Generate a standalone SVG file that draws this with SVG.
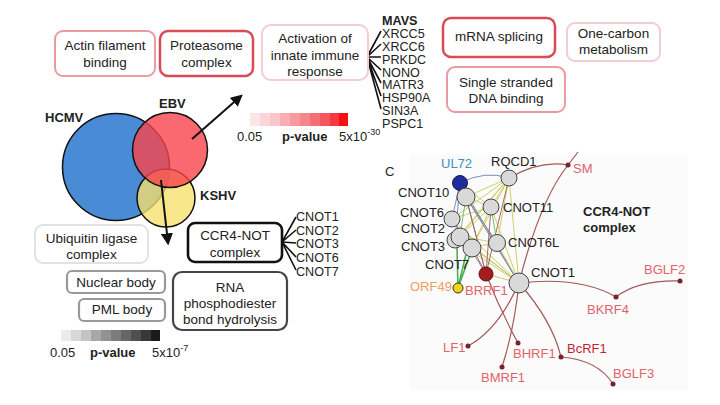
<svg xmlns="http://www.w3.org/2000/svg" width="720" height="405" viewBox="0 0 720 405">
<defs>
<style>
text{font-family:"Liberation Sans",Arial,sans-serif;fill:#222;}
.bt{font-size:13.5px;text-anchor:middle;}
.lst{font-size:12.6px;}
.b{font-weight:bold;}
.box{fill:#fff;stroke-width:2;}
.pk1{stroke:#f2cdd1;}
.pk2{stroke:#e99aa3;}
.pk3{stroke:#d94a57;stroke-width:2.5;}
.g1{stroke:#e2e2e2;}
.g2{stroke:#999;stroke-width:2.2;}
.g3{stroke:#454545;stroke-width:2.2;}
.g4{stroke:#111;stroke-width:2.6;}
.fan{stroke:#111;stroke-width:1.6;fill:none;}
.arr{stroke:#111;stroke-width:2;fill:none;}
.nt{font-size:13px;}
.ev{font-size:13px;fill:#e0626a;}
.ge{fill:none;stroke:#a35858;stroke-width:1.2;}
.ce{fill:none;stroke-width:0.9;}
.yg{stroke:#c9c85a;}
.bg{stroke:#6f7fb5;}
.gr{stroke:#62b86a;}
.br{stroke:#a5584a;}
.nd{fill:#d9d9d9;stroke:#444;stroke-width:1;}
.dot{fill:#7a2030;}
</style>
<marker id="ah" viewBox="0 0 10 10" refX="8" refY="5" markerWidth="6" markerHeight="6" orient="auto" markerUnits="strokeWidth"><path d="M0,0 L10,5 L0,10 z" fill="#111"/></marker>
</defs>
<rect width="720" height="405" fill="#fff"/>
<rect x="410" y="155" width="278" height="235" fill="#fbfbfb"/>

<!-- Venn -->
<g id="venn">
<circle cx="116" cy="167" r="53.5" fill="#4a8bd6" stroke="#111" stroke-width="1.5"/>
<circle cx="166" cy="198" r="29" fill="#f7e06a" fill-opacity="0.78" stroke="#111" stroke-width="1.5"/>
<circle cx="170" cy="150" r="37.5" fill="#f7434b" fill-opacity="0.8" stroke="#111" stroke-width="1.5"/>
<text x="45" y="122" class="b" font-size="13">HCMV</text>
<text x="159" y="108" class="b" font-size="13">EBV</text>
<text x="200" y="200" class="b" font-size="13">KSHV</text>
</g>

<g id="connectors">
<line x1="192" y1="139" x2="241" y2="96" class="arr" marker-end="url(#ah)"/>
<line x1="161" y1="180" x2="168" y2="243" class="arr" marker-end="url(#ah)"/>
<g class="fan">
<path d="M367,57 L381,31 M367,57 L381,44 M367,57 L381,57 M367,57 L381,70 M367,57 L381,83 M367,57 L381,96 M367,57 L381,109"/>
<path d="M282,242 L296,217 M282,242 L296,230 M282,242 L296,243 M282,242 L296,257 M282,242 L296,270"/>
</g>
</g>

<!-- top boxes -->
<g id="actin"><rect x="55" y="31" width="100" height="45" rx="8" class="box pk2"/><text class="bt" x="105" y="50">Actin filament</text><text class="bt" x="105" y="67">binding</text></g>
<g id="proteasome"><rect x="160" y="31" width="93" height="45" rx="8" class="box pk3"/><text class="bt" x="206.5" y="50">Proteasome</text><text class="bt" x="206.5" y="67">complex</text></g>
<g id="innate"><rect x="262" y="25" width="106" height="55" rx="9" class="box pk1"/><text class="bt" x="315" y="43">Activation of</text><text class="bt" x="315" y="60">innate immune</text><text class="bt" x="315" y="76">response</text></g>
<g id="mavs-list">
<text class="lst b" x="382" y="25">MAVS</text>
<text class="lst" x="382" y="38">XRCC5</text>
<text class="lst" x="382" y="51">XRCC6</text>
<text class="lst" x="382" y="63.5">PRKDC</text>
<text class="lst" x="382" y="76.5">NONO</text>
<text class="lst" x="382" y="89">MATR3</text>
<text class="lst" x="382" y="102">HSP90A</text>
<text class="lst" x="382" y="115">SIN3A</text>
<text class="lst" x="382" y="128">PSPC1</text>
</g>
<g id="mrna"><rect x="443" y="18" width="112" height="39" rx="8" class="box pk3"/><text class="bt" x="499" y="41">mRNA splicing</text></g>
<g id="onecarbon"><rect x="567" y="23" width="93" height="38" rx="8" class="box pk1"/><text class="bt" x="613.5" y="38">One-carbon</text><text class="bt" x="613.5" y="54">metabolism</text></g>
<g id="ssdna"><rect x="447" y="67" width="118" height="45" rx="8" class="box pk2"/><text class="bt" x="506" y="87">Single stranded</text><text class="bt" x="506" y="103">DNA binding</text></g>

<!-- red legend -->
<g id="legend-red">
<rect x="250" y="113" width="10" height="13" fill="#fde6e8"/>
<rect x="260" y="113" width="10" height="13" fill="#fcd6d9"/>
<rect x="270" y="113" width="10" height="13" fill="#fbc6ca"/>
<rect x="280" y="113" width="10" height="13" fill="#f9aeb3"/>
<rect x="290" y="113" width="10" height="13" fill="#f79aa0"/>
<rect x="300" y="113" width="10" height="13" fill="#f5868c"/>
<rect x="310" y="113" width="10" height="13" fill="#f46e74"/>
<rect x="320" y="113" width="10" height="13" fill="#f3565c"/>
<rect x="330" y="113" width="9" height="13" fill="#f43a40"/>
<rect x="339" y="113" width="9" height="13" fill="#f50f16"/>
<text x="237" y="141" font-size="13">0.05</text>
<text x="282" y="141" font-size="13" class="b">p-value</text>
<text x="339" y="141" font-size="13">5x10<tspan font-size="9" dy="-6">-30</tspan></text>
</g>

<!-- bottom-left boxes -->
<g id="ubiquitin"><rect x="35" y="225" width="113" height="38" rx="8" class="box g1"/><text class="bt" x="91.5" y="243">Ubiquitin ligase</text><text class="bt" x="91.5" y="259">complex</text></g>
<g id="ccr4"><rect x="188" y="223" width="94" height="39" rx="7" class="box g4"/><text class="bt" x="235" y="240">CCR4-NOT</text><text class="bt" x="235" y="257">complex</text></g>
<g id="cnot-list">
<text class="lst" x="296" y="221">CNOT1</text>
<text class="lst" x="296" y="235">CNOT2</text>
<text class="lst" x="296" y="248">CNOT3</text>
<text class="lst" x="296" y="262">CNOT6</text>
<text class="lst" x="296" y="276">CNOT7</text>
</g>
<g id="nuclear"><rect x="67" y="271" width="98" height="22" rx="5" class="box g2"/><text class="bt" x="116" y="287">Nuclear body</text></g>
<g id="pml"><rect x="79" y="299" width="86" height="22" rx="5" class="box g2"/><text class="bt" x="122" y="314">PML body</text></g>
<g id="rna"><rect x="173" y="272" width="114" height="58" rx="9" class="box g3"/><text class="bt" x="230" y="292">RNA</text><text class="bt" x="230" y="308">phosphodiester</text><text class="bt" x="230" y="324">bond hydrolysis</text></g>

<!-- gray legend -->
<g id="legend-gray">
<rect x="61" y="330" width="10" height="11" fill="#ececec"/>
<rect x="71" y="330" width="10" height="11" fill="#d8d8d8"/>
<rect x="81" y="330" width="10" height="11" fill="#c4c4c4"/>
<rect x="91" y="330" width="10" height="11" fill="#a8a8a8"/>
<rect x="101" y="330" width="10" height="11" fill="#929292"/>
<rect x="111" y="330" width="10" height="11" fill="#7c7c7c"/>
<rect x="121" y="330" width="10" height="11" fill="#666"/>
<rect x="131" y="330" width="10" height="11" fill="#505050"/>
<rect x="141" y="330" width="10" height="11" fill="#383838"/>
<rect x="151" y="330" width="9" height="11" fill="#1a1a1a"/>
<text x="50" y="357" font-size="13">0.05</text>
<text x="90" y="357" font-size="13" class="b">p-value</text>
<text x="152" y="357" font-size="13">5x10<tspan font-size="9" dy="-6">-7</tspan></text>
</g>

<!-- network -->
<g id="network-edges">
<path class="ge" d="M509,178 Q540,160 568,165"/>
<path class="ge" d="M519,283 Q540,200 568,165 L578,152"/>
<path class="ge" d="M519,283 Q580,276 616,297"/>
<path class="ge" d="M616,297 Q638,280 680,281"/>
<path class="ge" d="M519,283 Q498,330 468,346"/>
<path class="ge" d="M486,274 Q500,310 518,343"/>
<path class="ge" d="M519,283 Q514,330 502,367"/>
<path class="ge" d="M519,283 Q552,320 561,357"/>
<path class="ge" d="M561,357 Q598,360 613,384"/>
<g class="ce">
<path class="bg" d="M460,183 Q485,170 509,178"/>
<path class="bg" d="M460,183 L452,219 M460,183 L455,240 M460,183 L519,283 M466,197 L486,274 M452,219 L486,274"/>
<path class="yg" d="M509,178 L466,197 M509,178 L491,207 M509,178 L452,219 M509,178 L460,236 M509,178 L472,247 M509,178 L497,243 M509,178 L519,283 M509,178 L455,240"/>
<path class="yg" d="M466,197 L491,207 M466,197 L519,283 M466,197 L497,243 M491,207 L519,283 M491,207 L472,247 M491,207 L460,236 M491,207 L452,219 M460,183 L491,207"/>
<path class="yg" d="M497,243 L519,283 M497,243 L460,236 M497,243 L472,247 M452,219 L519,283 M460,236 L519,283 M472,247 L519,283 M455,240 L519,283 M486,274 L519,283"/>
<path class="br" d="M466,197 L486,274 M472,247 L486,274 M491,207 L486,274 M509,178 L486,274"/>
<path class="bg" d="M466,197 L497,243 M452,219 L472,247 M460,183 L466,197 M466,197 L519,283"/>
<path class="gr" d="M491,207 L497,243 M466,197 L460,236"/>
</g>
<path d="M458,288 L466,254 M458,288 L470,255 M458,288 L457,248" stroke="#4cb05a" stroke-width="1.6" fill="none"/>
</g>
<g id="n-ul72"><circle cx="460" cy="183" r="7.5" fill="#1f2c9e" stroke="#1a1a50" stroke-width="1"/><text class="nt" x="441" y="168" style="fill:#3a8fc4">UL72</text></g>
<g id="n-rqcd1"><circle cx="509" cy="178" r="8" class="nd"/><text class="nt" x="491" y="166">RQCD1</text></g>
<g id="n-cnot10"><circle cx="466" cy="197" r="9" class="nd"/><text class="nt" x="398" y="197">CNOT10</text></g>
<g id="n-cnot11"><circle cx="491" cy="207" r="8" class="nd"/><text class="nt" x="503" y="212">CNOT11</text></g>
<g id="n-cnot6"><circle cx="452" cy="219" r="8" class="nd"/><text class="nt" x="400" y="217">CNOT6</text></g>
<g id="n-cnot3"><circle cx="455" cy="240" r="8" class="nd"/><text class="nt" x="401" y="251">CNOT3</text></g>
<g id="n-cnot2"><circle cx="460" cy="237" r="9" class="nd"/><text class="nt" x="401" y="233">CNOT2</text></g>
<g id="n-cnot7"><circle cx="472" cy="248" r="9" class="nd"/><text class="nt" x="425" y="269">CNOT7</text></g>
<g id="n-cnot6l"><circle cx="497" cy="243" r="8.5" class="nd"/><text class="nt" x="508" y="247">CNOT6L</text></g>
<g id="n-brrf1"><circle cx="486" cy="274" r="7" fill="#a61c1e" stroke="#5a1010" stroke-width="1"/><text class="ev" x="465" y="295">BRRF1</text></g>
<g id="n-orf49"><circle cx="458" cy="288" r="5" fill="#f0d418" stroke="#333" stroke-width="1"/><text class="nt" x="410" y="291" style="fill:#f0a060">ORF49</text></g>
<g id="n-cnot1"><circle cx="519" cy="283" r="10" class="nd"/><text class="nt" x="531" y="277">CNOT1</text></g>
<g id="n-sm"><circle cx="568" cy="165" r="2.5" class="dot"/><text class="ev" x="573" y="173">SM</text></g>
<g id="n-bglf2"><circle cx="680" cy="281" r="2.5" class="dot"/><text class="ev" x="644" y="274">BGLF2</text></g>
<g id="n-bkrf4"><circle cx="616" cy="297" r="2.5" class="dot"/><text class="ev" x="587" y="314">BKRF4</text></g>
<g id="n-lf1"><circle cx="468" cy="346" r="2.5" class="dot"/><text class="ev" x="443" y="352">LF1</text></g>
<g id="n-bhrf1"><circle cx="518" cy="343" r="2.5" class="dot"/><text class="ev" x="513" y="358">BHRF1</text></g>
<g id="n-bcrf1"><circle cx="561" cy="357" r="2.5" class="dot"/><text class="nt" x="567" y="353" style="fill:#c41e30">BcRF1</text></g>
<g id="n-bmrf1"><circle cx="502" cy="367" r="2.5" class="dot"/><text class="ev" x="481" y="382">BMRF1</text></g>
<g id="n-bglf3"><circle cx="613" cy="384" r="2.5" class="dot"/><text class="ev" x="613" y="378">BGLF3</text></g>
<text x="385" y="176" font-size="13">C</text>
<text x="583" y="216" font-size="13" class="b">CCR4-NOT</text>
<text x="583" y="232" font-size="13" class="b">complex</text>
</svg>
